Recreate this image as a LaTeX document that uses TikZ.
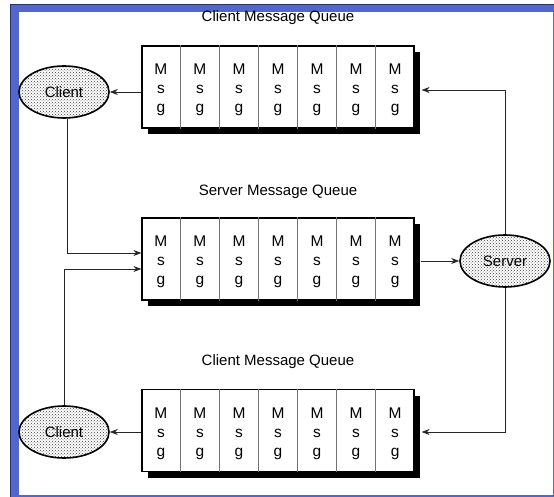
\documentclass[tikz,border=0pt]{standalone}
\usepackage{fontspec}
\setmainfont{Liberation Sans}
\usetikzlibrary{calc,shapes.geometric,shadows,patterns,arrows.meta}
\definecolor{frameblue}{RGB}{82,102,204}
\tikzset{
  queue/.style={draw, line width=1.2pt, fill=white, minimum width=272pt,
    minimum height=82pt, inner sep=0pt,
    drop shadow={shadow xshift=6pt, shadow yshift=-6pt, fill=black, opacity=1}},
  divider/.style={draw=black!55, line width=0.8pt},
  cell/.style={align=center, inner sep=0pt, yshift=-3pt, font=\fontsize{15.5}{19}\selectfont},
  title/.style={font=\fontsize{15}{18}\selectfont},
  actor/.style={ellipse, draw, line width=1.6pt, minimum width=90pt,
    minimum height=52pt, pattern=crosshatch dots, pattern color=black!75,
    font=\fontsize{15}{18}\selectfont},
  conn/.style={draw=black!85, line width=0.8pt, -{Stealth[length=8pt,width=6pt]}}
}
\begin{document}
\begin{tikzpicture}[x=1pt,y=-1pt]
  \useasboundingbox (0,0) rectangle (554,497);
  % window frame
  \fill[frameblue] (10,4) rectangle (554,497);
  \fill[white] (19,12) rectangle (553,495);
  \draw[frameblue!50!black, line width=1.2pt] (10.6,497) -- (10.6,4.6) -- (554,4.6);
  % the three queues with their titles
  \node[title] (topt) at (278,18) {Client Message Queue};
  \node[queue] (topq) at (278,87) {};
  \node[title] (srvt) at (278,192) {Server Message Queue};
  \node[queue] (srvq) at (278,259) {};
  \node[title] (bott) at (278,362) {Client Message Queue};
  \node[queue] (botq) at (278,430.5) {};
  % message cells
  \foreach \q in {topq,srvq,botq} {
    \foreach \i in {1,...,6}
      \draw[divider] ($(\q.north west)!\i/7!(\q.north east)$) -- ($(\q.south west)!\i/7!(\q.south east)$);
    \foreach \i in {0,...,6}
      \node[cell] (\q-\i) at ($(\q.west)!{(\i+0.5)/7}!(\q.east)$) {M\\s\\g};
  }
  % clients and server
  \node[actor] (tcl) at (64,92) {Client};
  \node[actor] (bcl) at (64,432) {Client};
  \node[actor] (srv) at (505,261) {Server};
  % queues to clients
  \draw[conn] (tcl.east -| topq.west) -- (tcl.east);
  \draw[conn] (bcl.east -| botq.west) -- (bcl.east);
  % clients to server queue
  \draw[conn] ([xshift=3pt]tcl.south) |- ([yshift=6pt]srvq.west);
  \draw[conn] (bcl.north) |- ([yshift=-10pt]srvq.west);
  % server queue to server, server back to clients
  \draw[conn] ([xshift=6pt]srvq.east |- srv.west) -- (srv.west);
  \draw[conn] (srv.north) |- ([xshift=7pt]topq.east |- 0,90);
  \draw[conn] (srv.south) |- ([xshift=7pt]botq.east |- bcl.east);
\end{tikzpicture}
\end{document}
